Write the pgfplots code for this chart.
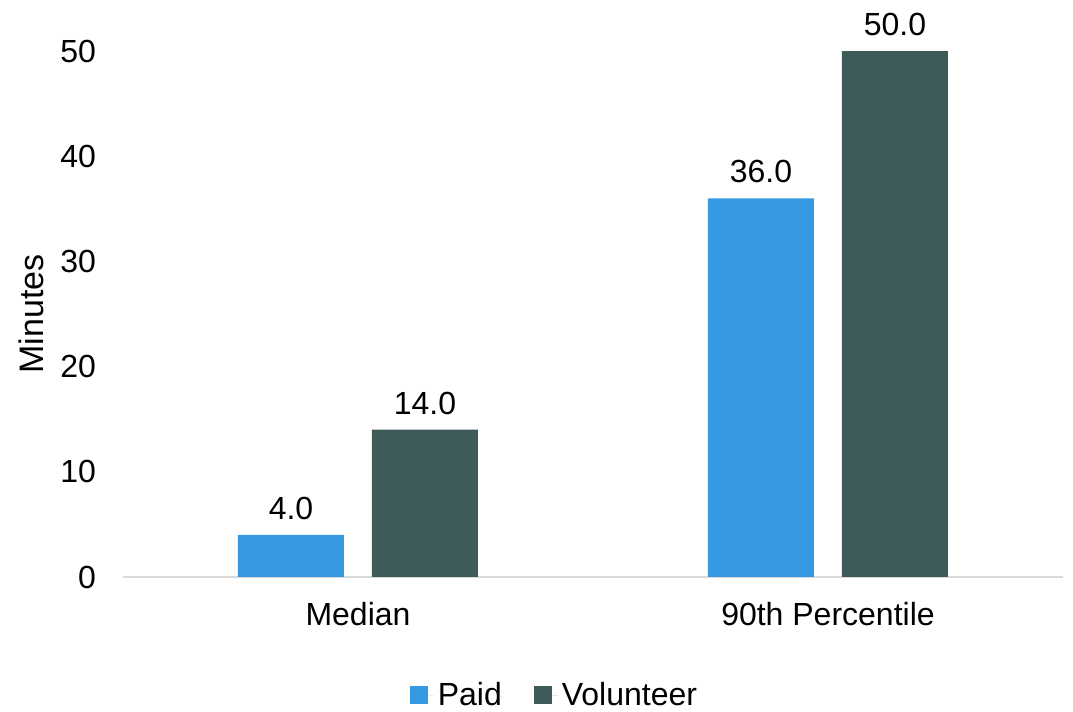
\documentclass[border=0pt]{standalone}
\usepackage{pgfplots}
\pgfplotsset{compat=1.18}
\usepackage{fontspec}
\setmainfont{Liberation Sans}
\definecolor{paid}{HTML}{3499E0}
\definecolor{vol}{HTML}{3E5B5A}
\definecolor{axgray}{HTML}{D9D9D9}
\begin{document}
\begin{tikzpicture}
\useasboundingbox (-61.5pt,-67.5pt) rectangle (475pt,288.5pt);
\begin{axis}[
  at={(0,0)}, anchor=south west,
  scale only axis, width=470pt, height=263pt,
  xmin=-0.5, xmax=1.5, ymin=0, ymax=50,
  xtick={0,1}, xticklabels={Median,90th Percentile},
  ytick={0,10,20,30,40,50},
  ybar, bar width=53pt,
  axis x line*=bottom, axis y line*=left,
  x axis line style={draw=axgray, line width=1pt, -},
  y axis line style={draw=none},
  major tick length=0pt,
  tick style={draw=none},
  font=\fontsize{16pt}{18pt}\selectfont,
  /pgf/number format/assume math mode=true,
  yticklabel style={xshift=-10pt},
  xticklabel style={yshift=-9pt},
  ylabel={Minutes},
  ylabel style={at={(axis description cs:0,0.5)}, anchor=south, yshift=36pt, font=\fontsize{17pt}{19pt}\selectfont},
  nodes near coords,
  nodes near coords style={font=\fontsize{16pt}{18pt}\selectfont, yshift=4pt, /pgf/number format/fixed, /pgf/number format/fixed zerofill, /pgf/number format/precision=1},
  legend style={at={(axis description cs:0.46,-0.225)}, anchor=center, draw=none, legend columns=2, font=\fontsize{16pt}{18pt}\selectfont, /tikz/every even column/.append style={column sep=14pt}},
  legend image code/.code={\fill[#1] (0pt,-4.5pt) rectangle (9pt,4.5pt); \path (0pt,0pt) -- (12pt,0pt);},
]
\addplot[fill=paid, draw=none, bar shift=-33.5pt] coordinates {(0,4) (1,36)};
\addplot[fill=vol, draw=none, bar shift=33.5pt] coordinates {(0,14) (1,50)};
\legend{Paid,Volunteer}
\end{axis}
\end{tikzpicture}
\end{document}
